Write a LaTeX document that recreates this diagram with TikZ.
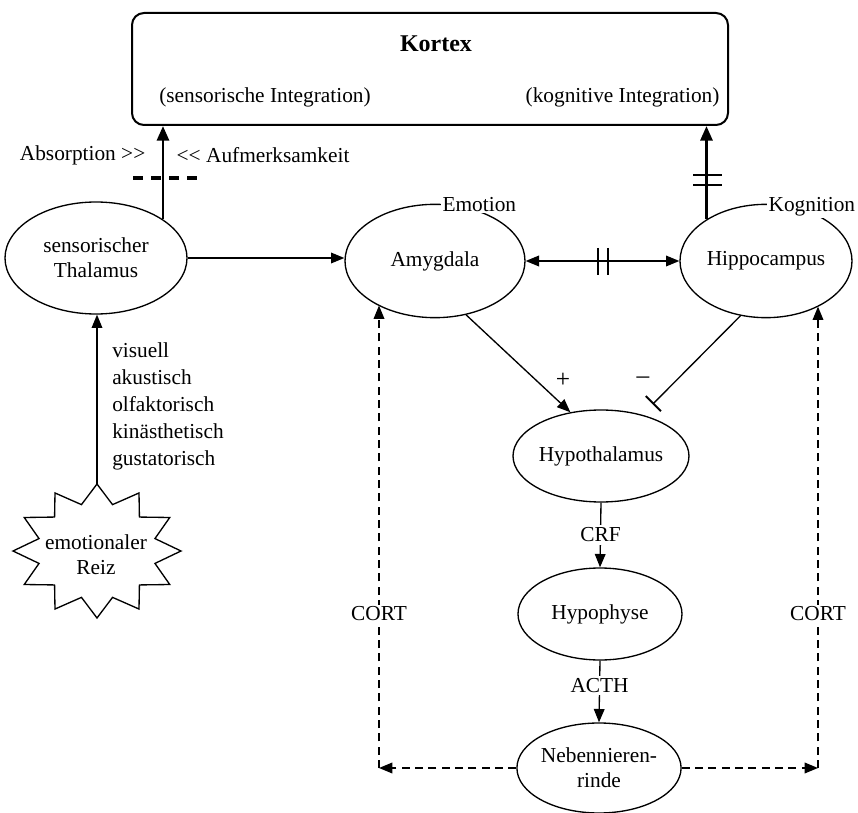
\documentclass[tikz,border=0pt]{standalone}
\usepackage{fontspec}
\setmainfont{Liberation Serif}
\usetikzlibrary{shapes.geometric,arrows.meta}
\begin{document}
\begin{tikzpicture}[x=0.75pt,y=-0.75pt,
  font=\fontsize{16}{19}\selectfont,
  ell/.style={draw, ellipse, line width=1pt, inner sep=0pt, align=center},
  tip/.style={-{Triangle[length=10pt,width=8pt]}},
  arr/.style={line width=1pt, tip},
  thickarr/.style={line width=2.2pt, -{Triangle[length=11pt,width=9pt]}},
  dasharr/.style={line width=1pt, dash pattern=on 6pt off 4pt, tip},
  lbl/.style={inner sep=1pt},
]
\useasboundingbox (0,0) rectangle (858,813);

% Kortex box
\node[draw, line width=1.5pt, rounded corners=9pt, minimum width=447pt, minimum height=84pt] (kortex) at (430,69) {};
\node[font=\fontsize{18}{20}\selectfont\bfseries] (kt) at (436,44) {Kortex};
\node (si) at (265,97) {(sensorische Integration)};
\node[anchor=west] (ki) at (521,97) {(kognitive Integration)};

% ellipses
\node[ell, minimum width=136.5pt, minimum height=84pt] (thal) at (96,258) {sensorischer\\Thalamus};
\node[ell, minimum width=135pt, minimum height=85pt] (amy) at (435,261) {Amygdala};
\node[ell, minimum width=129pt, minimum height=85pt] (hip) at (766,261) {Hippocampus};
\node[ell, minimum width=123pt, minimum height=69pt] (hyp) at (601,456) {Hypothalamus};
\node[ell, minimum width=123pt, minimum height=69pt] (hph) at (600,614) {Hypophyse};
\node[ell, minimum width=123pt, minimum height=67.5pt] (neb) at (599,768) {Nebennieren-\\rinde};

\node[lbl, fill=white, anchor=west] (emo) at (441,205) {Emotion};
\node[lbl, fill=white, anchor=west] (kog) at (767,207) {Kognition};

% star
\draw[line width=1pt] (97,484) \foreach \i in {1,...,23} { -- ({97+ifthenelse(mod(\i,2)==0,84,60)*cos(90+15*\i)}, {551-ifthenelse(mod(\i,2)==0,67,48)*sin(90+15*\i)}) } -- cycle;
\node[align=center] (reiz) at (96,555) {emotionaler\\Reiz};
\coordinate (reiztop) at (97,484);

\node[anchor=west, align=left, inner sep=0pt, font=\fontsize{16}{20.25}\selectfont] (senses) at (112,406) {visuell\\akustisch\\olfaktorisch\\kinästhetisch\\gustatorisch};

% Thalamus -> Kortex
\draw[thickarr] (thal.30) -- (thal.30 |- kortex.south);
\draw[line width=3pt, dash pattern=on 7.5pt off 6pt] (133,178) -- (197,178);
\node[anchor=east] (abs) at (150,155) {Absorption >{}>};
\node[anchor=west] (auf) at (172,155) {<{}< Aufmerksamkeit};

% Thalamus -> Amygdala
\draw[arr] (thal.east) -- (thal.east -| amy.west);

% Amygdala <-> Hippocampus
\draw[line width=1pt, {Triangle[length=10pt,width=8pt]}-{Triangle[length=10pt,width=8pt]}] (amy.east) -- (hip.west);
\draw[line width=1.6pt] (598,248) -- (598,275) (608,248) -- (608,275);

% Hippocampus -> Kortex
\draw[thickarr] (hip.145) -- (hip.145 |- kortex.south);
\draw[line width=1.6pt] (693,175) -- (722,175) (693,185) -- (722,185);

% to Hypothalamus
\draw[arr] (amy.-60) -- (hyp.125);
\draw[line width=1pt, -{Bar[width=16pt,line width=1.5pt]}, shorten >=11pt] (hip.-115) -- (hyp.45);
\node[font=\fontsize{19}{20}\selectfont] (plus) at (563,380) {+};
\node[font=\fontsize{19}{20}\selectfont] (minus) at (643,380) {--};

% axis
\draw[arr] (hyp.south) -- node[fill=white, inner sep=2pt] {CRF} (hph.north);
\draw[arr] (hph.south) -- node[fill=white, inner sep=2pt, pos=0.4] {ACTH} (neb.north);

% CORT feedback
\coordinate (cl) at (379,768);
\coordinate (cr) at (818,768);
\draw[dasharr] (neb.west) -- (cl);
\draw[dasharr] (cl) -- node[fill=white, inner sep=1pt, pos=0.335] {CORT} (cl |- amy.218);
\draw[dasharr] (neb.east) -- (cr);
\draw[dasharr] (cr) -- node[fill=white, inner sep=1pt, pos=0.335] {CORT} (cr |- hip.-41);

% emotional stimulus -> thalamus
\draw[arr] (reiztop) -- (reiztop |- thal.south);
\end{tikzpicture}
\end{document}
